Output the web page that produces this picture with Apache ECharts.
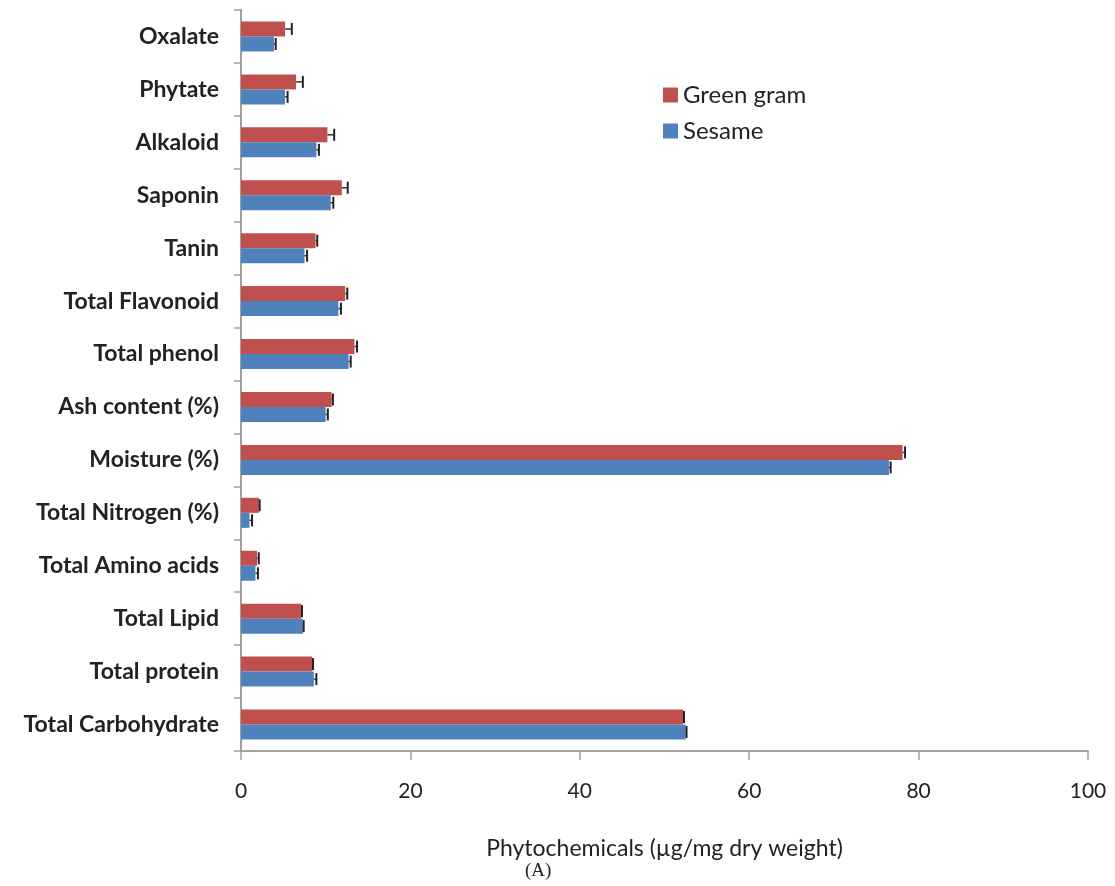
<!DOCTYPE html>
<html>
<head>
<meta charset="utf-8">
<script src="https://cdn.jsdelivr.net/npm/echarts@6/dist/echarts.min.js"></script>
<style>
  html, body { margin: 0; padding: 0; background: #fff; }
  #chart { width: 1115px; height: 886px; }
</style>
</head>
<body>
<div id="chart"></div>
<script>
// categories from bottom to top
var categories = ['Total Carbohydrate', 'Total protein', 'Total Lipid', 'Total Amino acids',
    'Total Nitrogen (%)', 'Moisture (%)', 'Ash content (%)', 'Total phenol', 'Total Flavonoid',
    'Tanin', 'Saponin', 'Alkaloid', 'Phytate', 'Oxalate'];
var greenGram = [52.2, 8.4, 7.1, 1.9, 2.1, 78.1, 10.7, 13.4, 12.3, 8.8, 11.9, 10.2, 6.5, 5.2];
var greenGramErr = [0.1, 0.1, 0.1, 0.2, 0.1, 0.3, 0.15, 0.3, 0.25, 0.2, 0.7, 0.8, 0.8, 0.8];
var sesame = [52.5, 8.6, 7.3, 1.7, 1.0, 76.5, 10.0, 12.7, 11.5, 7.5, 10.6, 8.9, 5.2, 3.9];
var sesameErr = [0.1, 0.3, 0.1, 0.3, 0.3, 0.2, 0.25, 0.25, 0.3, 0.3, 0.3, 0.3, 0.3, 0.2];
var xTicks = [0, 20, 40, 60, 80, 100];

var BAR_H = 15;
var font = 'Lato, "Open Sans", sans-serif';

function errData(vals, errs) {
    return vals.map(function (v, i) { return [v, i, errs[i]]; });
}

// error bar drawn to the right of each bar, shifted up (-1) or down (+1)
function errRender(shift) {
    return function (params, api) {
        var v = api.value(0), i = api.value(1), e = api.value(2);
        var p0 = api.coord([v, i]);
        var p1 = api.coord([v + e, i]);
        var y = p0[1] + shift * BAR_H / 2;
        var cap = 6;
        return {
            type: 'group',
            children: [
                { type: 'line', shape: { x1: p0[0], y1: y, x2: p1[0], y2: y },
                  style: { stroke: '#333', lineWidth: 1.5 } },
                { type: 'line', shape: { x1: p1[0], y1: y - cap, x2: p1[0], y2: y + cap },
                  style: { stroke: '#222', lineWidth: 2 } }
            ]
        };
    };
}

var chart = echarts.init(document.getElementById('chart'));
chart.setOption({
    animation: false,
    textStyle: { fontFamily: font },
    grid: { left: 241, right: 27, top: 10, bottom: 135 },
    legend: {
        data: ['Green gram', 'Sesame'],
        orient: 'vertical',
        left: 658,
        top: 78,
        itemWidth: 15,
        itemHeight: 15,
        itemGap: 12,
        icon: 'rect',
        textStyle: { fontSize: 24, color: '#222', fontFamily: font }
    },
    xAxis: {
        type: 'value',
        min: 0,
        max: 100,
        interval: 20,
        name: 'Phytochemicals (\u00b5g/mg dry weight)',
        nameLocation: 'middle',
        nameGap: 86,
        nameTextStyle: { fontSize: 23, color: '#222', fontFamily: font },
        axisLine: { show: true, lineStyle: { color: '#a0a0a0', width: 2 } },
        axisTick: { show: true, length: 9, lineStyle: { color: '#a0a0a0', width: 1.5 } },
        splitLine: { show: false },
        axisLabel: {
            margin: 30, fontSize: 21, color: '#222',
            formatter: function (v) { return xTicks.indexOf(v) >= 0 ? String(v) : ''; }
        }
    },
    yAxis: {
        type: 'category',
        data: categories,
        axisLine: { lineStyle: { color: '#a0a0a0', width: 2 } },
        axisTick: { show: true, length: 7, lineStyle: { color: '#a0a0a0', width: 1.5 } },
        axisLabel: { margin: 22, fontSize: 23, fontWeight: 'bold', color: '#222' }
    },
    series: [
        {
            name: 'Green gram', type: 'bar', data: greenGram, barWidth: BAR_H, barGap: '0%',
            itemStyle: { color: '#C0504D' }
        },
        {
            name: 'Sesame', type: 'bar', data: sesame, barWidth: BAR_H, barGap: '0%',
            itemStyle: { color: '#4F81BD' }
        },
        {
            type: 'custom', renderItem: errRender(-1), data: errData(greenGram, greenGramErr),
            encode: { x: 0, y: 1 }, z: 5, silent: true
        },
        {
            type: 'custom', renderItem: errRender(1), data: errData(sesame, sesameErr),
            encode: { x: 0, y: 1 }, z: 5, silent: true
        }
    ],
    graphic: [{
        type: 'text', left: 525, top: 862,
        style: { text: '(A)', font: '19px "Liberation Serif", serif', fill: '#222' }
    }]
});
</script>
</body>
</html>
